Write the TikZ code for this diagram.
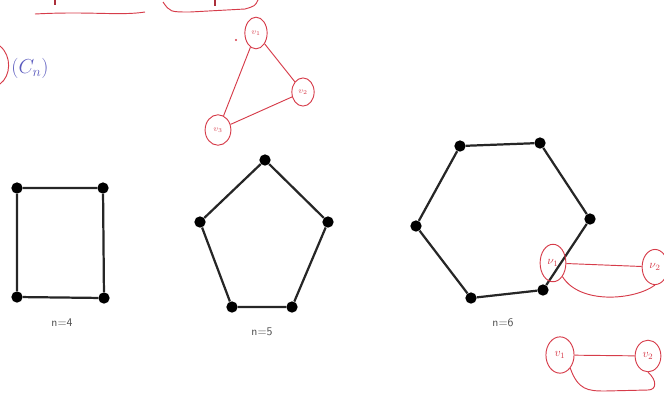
\documentclass[tikz,border=0pt]{standalone}
\usetikzlibrary{shapes.geometric}
\definecolor{pen}{RGB}{214,60,74}
\definecolor{ink}{RGB}{90,90,190}
\tikzset{
  dot/.style={circle, fill=black, inner sep=0pt, minimum size=0.34cm},
  edge/.style={line width=1.9pt, black!85},
  lbl/.style={font=\sffamily, text=black!70},
  rv/.style={ellipse, draw=pen, thick, text=pen, inner sep=0pt, font=\scriptsize},
  redline/.style={pen, thick}
}
\begin{document}
\begin{tikzpicture}[x=0.03cm, y=-0.03cm]
\useasboundingbox (0,0) rectangle (664,406);
% cycle C4
\node[dot] (a1) at (17,188) {};
\node[dot] (a2) at (103,188) {};
\node[dot] (a3) at (104,298) {};
\node[dot] (a4) at (17,297) {};
\draw[edge] (a1) -- (a2) -- (a3) -- (a4) -- (a1);
\node[lbl] (la) at (62,323) {n=4};
% cycle C5
\node[dot] (p1) at (265,160) {};
\node[dot] (p2) at (328,222) {};
\node[dot] (p3) at (292,307) {};
\node[dot] (p4) at (232,307) {};
\node[dot] (p5) at (200,222) {};
\draw[edge] (p1) -- (p2) -- (p3) -- (p4) -- (p5) -- (p1);
\node[lbl] (lp) at (262,332) {n=5};
% cycle C6
\node[dot] (h1) at (460,146) {};
\node[dot] (h2) at (540,143) {};
\node[dot] (h3) at (590,219) {};
\node[dot] (h4) at (543,290) {};
\node[dot] (h5) at (471,298) {};
\node[dot] (h6) at (416,226) {};
\draw[edge] (h1) -- (h2) -- (h3) -- (h4) -- (h5) -- (h6) -- (h1);
\node[lbl] (lh) at (503,323) {n=6};
% handwritten triangle
\node[rv, minimum width=19pt, minimum height=27pt] (t1) at (256,33) {$v_1$};
\node[rv, minimum width=19pt, minimum height=24pt] (t2) at (303,92) {$v_2$};
\node[rv, minimum width=22pt, minimum height=26pt] (t3) at (218,130) {$v_3$};
\draw[redline] (t1) -- (t2) -- (t3) -- (t1);
\fill[pen] (236,40) circle (1.2);
% handwritten pairs
\node[rv, minimum width=22pt, minimum height=32pt, font=\normalsize] (b1) at (553,263) {$\nu_1$};
\node[rv, minimum width=22pt, minimum height=30pt, font=\normalsize] (b2) at (655,267) {$\nu_2$};
\draw[redline] (b1) -- (b2);
\draw[redline] (b1.south east) .. controls (580,305) and (635,300) .. (b2.south);
\node[rv, minimum width=24pt, minimum height=31pt, font=\normalsize] (c1) at (560,355) {$v_1$};
\node[rv, minimum width=22pt, minimum height=27pt, font=\normalsize] (c2) at (648,356) {$v_2$};
\draw[redline] (c1) -- (c2);
\draw[redline] (c1.south east) .. controls (578,390) and (588,391) .. (605,391) -- (648,390) .. controls (657,390) and (657,380) .. (c2.south);
% top strokes
\draw[redline] (35,14) .. controls (90,11) and (120,16) .. (145,12);
\draw[redline] (163,2) .. controls (170,12) .. (190,12) -- (245,9) .. controls (255,6) .. (258,0);
\draw[pen!80!black, line width=1.2pt] (55,0) -- (55,5);
\draw[pen!80!black, line width=1.2pt] (215,0) -- (215,6);
% left margin
\draw[redline] (0,46) .. controls (12,56) and (11,76) .. (0,84);
\node[text=ink, font=\LARGE] (cn) at (30,68) {$(C_n)$};
\end{tikzpicture}
\end{document}
